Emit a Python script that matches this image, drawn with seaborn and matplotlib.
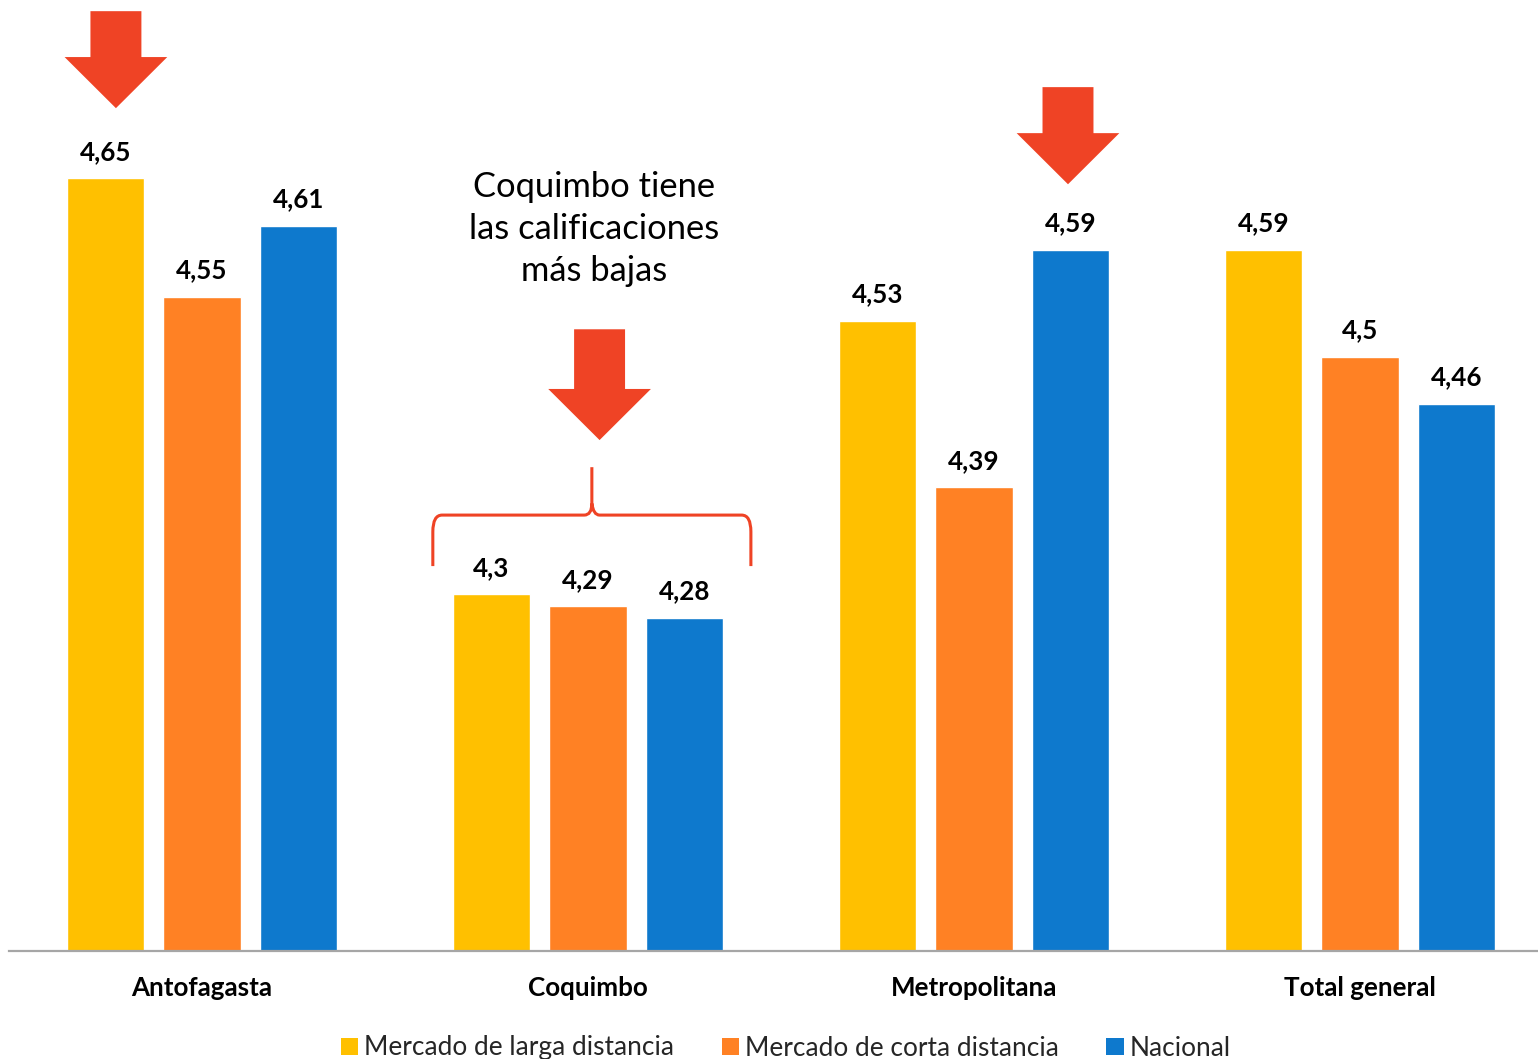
import matplotlib
matplotlib.use("Agg")
import matplotlib.pyplot as plt
from matplotlib.patches import Polygon, PathPatch, Patch
from matplotlib.path import Path
import seaborn as sns
import pandas as pd

# Ratings by region and market
regions = ["Antofagasta", "Coquimbo", "Metropolitana", "Total general"]
series = ["Mercado de larga distancia", "Mercado de corta distancia", "Nacional"]
larga = [4.65, 4.30, 4.53, 4.59]
corta = [4.55, 4.29, 4.39, 4.50]
nacional = [4.61, 4.28, 4.59, 4.46]
colors = ["#FFC000", "#FF8124", "#0E79CD"]
arrow_color = "#EF4325"

df = pd.DataFrame({
    "region": regions * 3,
    "serie": [series[0]] * 4 + [series[1]] * 4 + [series[2]] * 4,
    "valor": larga + corta + nacional,
})

sns.set_theme(style="white")
plt.rcParams["font.family"] = ["Lato", "DejaVu Sans"]

fig = plt.figure(figsize=(15.38, 10.59), dpi=100)
# axes spans x in [-0.5, 3.5] and y in [4.0, 4.8]
ax = fig.add_axes([9 / 1538, 1 - 951 / 1059, 1544 / 1538, 951 / 1059])

sns.barplot(data=df, x="region", y="valor", hue="serie", hue_order=series,
            palette=colors, width=0.75, gap=0.2, saturation=1,
            legend=False, ax=ax)

ax.set_xlim(-0.5, 3.5)
ax.set_ylim(4.0, 4.8)
ax.set_xlabel("")
ax.set_ylabel("")
ax.set_yticks([])
for s in ["top", "right", "left"]:
    ax.spines[s].set_visible(False)
ax.spines["bottom"].set_color("#A6A6A6")
ax.spines["bottom"].set_linewidth(1.6)
ax.tick_params(axis="x", length=0, pad=18)
for lbl in ax.get_xticklabels():
    lbl.set_fontweight("bold")
    lbl.set_fontsize(18.7)
    lbl.set_color("black")

for cont in ax.containers:
    ax.bar_label(cont, labels=[f"{v:g}".replace(".", ",") for v in cont.datavalues],
                 padding=10.5, fontsize=18.7, fontweight="bold", color="black")


def down_arrow(xc, y_top, y_tip, head_len=0.043, body_hw=0.066, head_hw=0.133):
    y_head = y_tip + head_len
    pts = [(xc - body_hw, y_top), (xc + body_hw, y_top), (xc + body_hw, y_head),
           (xc + head_hw, y_head), (xc, y_tip), (xc - head_hw, y_head),
           (xc - body_hw, y_head)]
    ax.add_patch(Polygon(pts, closed=True, facecolor=arrow_color,
                         edgecolor="none", clip_on=False, zorder=5))


down_arrow(-0.223, 4.7906, 4.709)
down_arrow(1.030, 4.523, 4.4298)
down_arrow(2.2435, 4.7267, 4.645)

# curly brace over the Coquimbo group
xl, xm, xr = 0.598, 1.010, 1.422
yb, yh, yp = 4.3238, 4.3667, 4.407
rx, ry = 0.04, 0.014
verts = [
    (xl, yb), (xl, yh - ry),
    (xl, yh), (xl + rx * 0.6, yh),
    (xm - rx * 0.5, yh),
    (xm, yh), (xm, yh + ry * 0.7),
    (xm, yp),
    (xm, yh + ry * 0.7), (xm + rx * 0.1, yh), (xm + rx * 0.5, yh),
    (xr - rx * 0.6, yh),
    (xr, yh), (xr, yh - ry),
    (xr, yb),
]
codes = [
    Path.MOVETO, Path.LINETO,
    Path.CURVE3, Path.CURVE3,
    Path.LINETO,
    Path.CURVE3, Path.CURVE3,
    Path.LINETO,
    Path.MOVETO, Path.CURVE3, Path.CURVE3,
    Path.LINETO,
    Path.CURVE3, Path.CURVE3,
    Path.LINETO,
]
ax.add_patch(PathPatch(Path(verts, codes), facecolor="none", edgecolor=arrow_color,
                       linewidth=2.2, capstyle="butt", zorder=5))

ax.text(1.0155, 4.6075, "Coquimbo tiene\nlas calificaciones\nmás bajas",
        ha="center", va="center", fontsize=24.8, linespacing=1.39, color="black")

handles = [Patch(facecolor=c, edgecolor="none") for c in colors]
fig.legend(handles, series, loc="center", bbox_to_anchor=(786 / 1538, 11 / 1059),
           ncol=3, frameon=False, fontsize=18.9, handlelength=0.65, handleheight=0.65,
           handletextpad=0.25, columnspacing=1.8, borderpad=0)

fig.savefig("out.png", dpi=100)
